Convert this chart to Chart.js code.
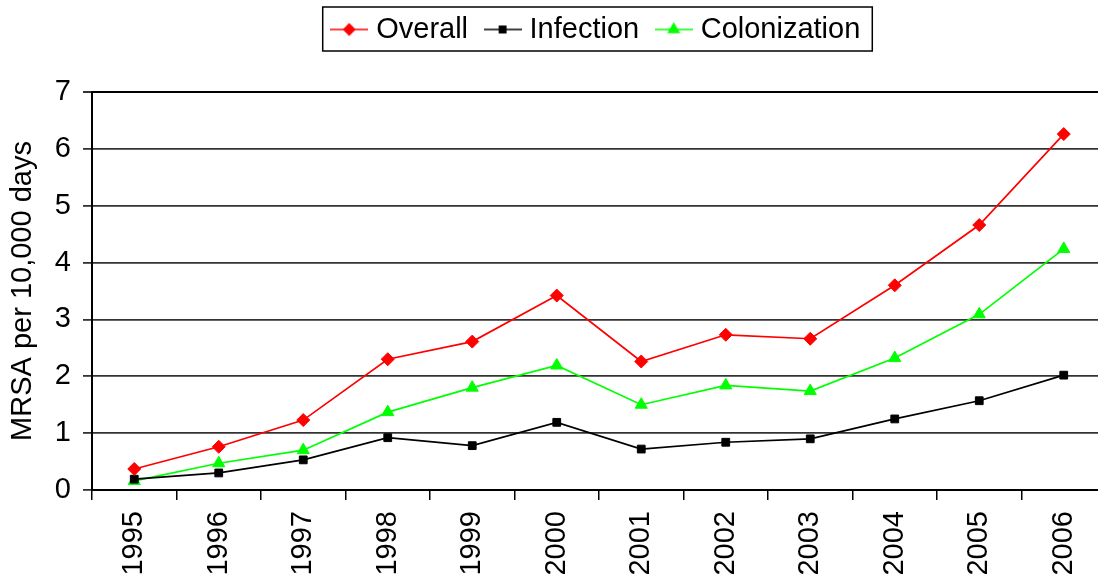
<!DOCTYPE html>
<html>
<head>
<meta charset="utf-8">
<script src="https://cdn.jsdelivr.net/npm/chart.js@4.4.1/dist/chart.umd.min.js"></script>
<style>
    html, body { margin: 0; padding: 0; overflow: hidden; background: #fff; }
</style>
</head>
<body>
<canvas id="canvasMrsa" width="1195" height="581"></canvas>
<script>
"use strict";

var years = ['1995', '1996', '1997', '1998', '1999', '2000', '2001', '2002', '2003', '2004', '2005', '2006'];
var overallRates = [0.37, 0.76, 1.23, 2.30, 2.61, 3.42, 2.26, 2.73, 2.66, 3.60, 4.66, 6.26];
var infectionRates = [0.19, 0.30, 0.53, 0.92, 0.78, 1.19, 0.72, 0.84, 0.90, 1.25, 1.57, 2.02];
var colonizationRates = [0.16, 0.47, 0.70, 1.37, 1.80, 2.19, 1.50, 1.84, 1.74, 2.32, 3.09, 4.24];
var yTicks = [0, 1, 2, 3, 4, 5, 6, 7];

var fontFamily = '"Liberation Sans", Arial, sans-serif';

// line + marker picture for the legend entries
function LegendIcon(color, style, radius) {
    var c = document.createElement('canvas');
    c.width = 38;
    c.height = 18;
    var ctx = c.getContext('2d');
    ctx.strokeStyle = color;
    ctx.fillStyle = color;
    ctx.lineWidth = 1.5;
    ctx.beginPath();
    ctx.moveTo(0, 9);
    ctx.lineTo(38, 9);
    ctx.stroke();
    Chart.helpers.drawPoint(ctx, { pointStyle: style, radius: radius - 1, borderWidth: 1 }, 19, 9);
    return c;
}

var legendBorder = {
    id: 'legendBorder',
    afterLayout: function (chart) {
        // legend sits centred over the page, not over the plot
        var shift = 598.5 - (chart.legend.left + chart.legend.right) / 2;
        chart.legend.left += shift;
        chart.legend.right += shift;
    },
    afterDraw: function (chart) {
        var boxes = chart.legend.legendHitBoxes;
        if (!boxes || !boxes.length) return;
        var first = boxes[0];
        var last = boxes[boxes.length - 1];
        var ctx = chart.ctx;
        ctx.save();
        ctx.strokeStyle = '#000';
        ctx.lineWidth = 1.5;
        ctx.strokeRect(first.left - 14, first.top - 8,
            last.left + last.width - first.left + 26, first.height + 15);
        ctx.restore();
    }
};

var datasets = [
    { label: 'Overall', data: overallRates, color: '#ff0000', style: 'rectRot', radius: 6.5 },
    { label: 'Infection', data: infectionRates, color: '#000000', style: 'rect', radius: 5.5 },
    { label: 'Colonization', data: colonizationRates, color: '#00ff00', style: 'triangle', radius: 7 }
].map(function (s) {
    return {
        label: s.label,
        data: s.data,
        xAxisID: 'x',
        yAxisID: 'y',
        borderColor: s.color,
        backgroundColor: s.color,
        pointBackgroundColor: s.color,
        pointBorderColor: s.color,
        pointStyle: s.style,
        pointRadius: s.radius,
        pointBorderWidth: 1,
        borderWidth: 1.7,
        tension: 0,
        legendIcon: LegendIcon(s.color, s.style, s.radius)
    };
});

const context = document.getElementById('canvasMrsa');
const myChart = new Chart(context, {
    type: 'line',
    data: {
        labels: years,
        datasets: datasets
    },
    plugins: [legendBorder],
    options: {
        responsive: false,
        animation: false,
        devicePixelRatio: 1,
        layout: { padding: { top: -7, right: 89, bottom: 0, left: 0 } },
        plugins: {
            tooltip: { enabled: false },
            legend: {
                position: 'top',
                labels: {
                    usePointStyle: true,
                    pointStyleWidth: 25,
                    padding: 22,
                    color: '#000',
                    font: { family: fontFamily, size: 29 },
                    generateLabels: function (chart) {
                        return chart.data.datasets.map(function (ds, i) {
                            return {
                                text: ds.label,
                                pointStyle: ds.legendIcon,
                                fillStyle: ds.borderColor,
                                strokeStyle: ds.borderColor,
                                lineWidth: 0,
                                fontColor: '#000',
                                hidden: false,
                                datasetIndex: i
                            };
                        });
                    }
                }
            }
        },
        scales: {
            xTop: {
                type: 'category',
                position: 'top',
                display: true,
                grid: { display: false },
                border: { display: false },
                ticks: { display: false },
                afterFit: function (scale) { scale.height = 38; }
            },
            x: {
                type: 'category',
                offset: true,
                grid: {
                    offset: true,
                    drawOnChartArea: false,
                    drawTicks: true,
                    tickLength: 10,
                    color: '#000',
                    lineWidth: 1.5
                },
                border: { display: true, color: '#000', width: 2 },
                ticks: {
                    color: '#000',
                    font: { family: fontFamily, size: 29 },
                    minRotation: 90,
                    maxRotation: 90,
                    padding: 11,
                    autoSkip: false
                },
                afterFit: function (scale) { scale.height = 91; }
            },
            y: {
                min: 0,
                max: 7,
                afterBuildTicks: function (scale) {
                    scale.ticks = yTicks.map(function (v) { return { value: v }; });
                },
                grid: {
                    color: function (ctx) { return ctx.tick && ctx.tick.value === 7 ? '#000' : '#333'; },
                    lineWidth: function (ctx) { return ctx.tick && ctx.tick.value === 7 ? 2 : 1.8; },
                    tickLength: 9,
                    tickColor: '#333'
                },
                border: { display: true, color: '#000', width: 2 },
                ticks: {
                    color: '#000',
                    font: { family: fontFamily, size: 29 },
                    padding: 12
                },
                title: {
                    display: true,
                    text: 'MRSA per 10,000 days',
                    color: '#000',
                    font: { family: fontFamily, size: 29 },
                    padding: { top: 6, bottom: 0 }
                },
                afterFit: function (scale) { scale.width = 92; }
            }
        }
    }
});
</script>
</body>
</html>
